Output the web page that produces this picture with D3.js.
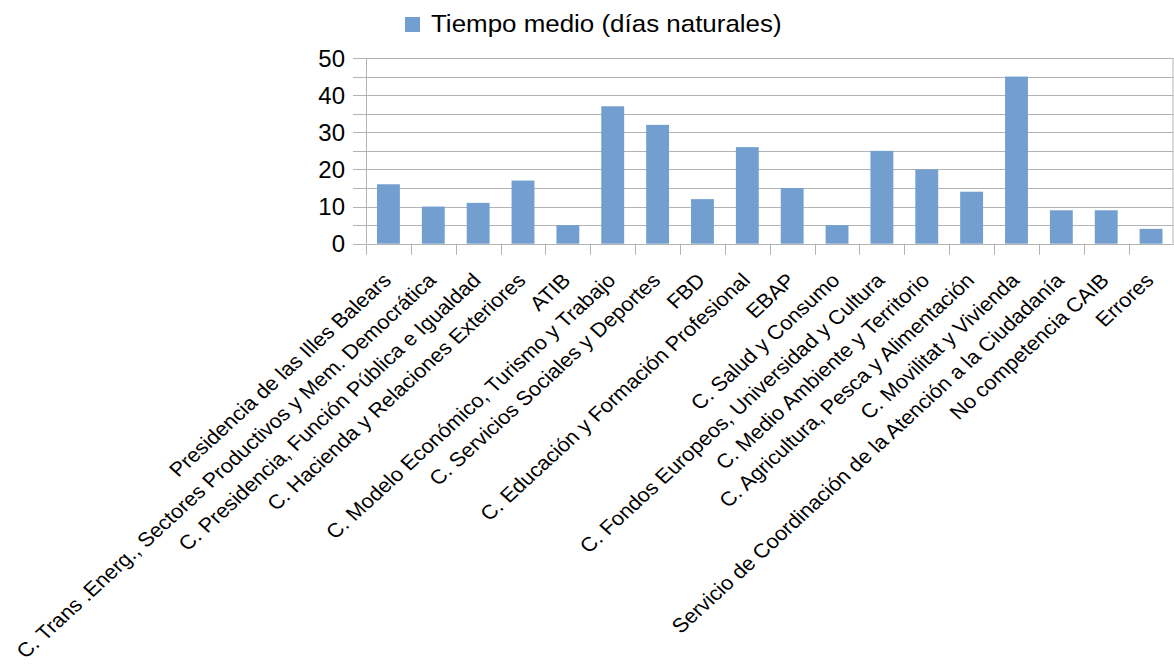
<!DOCTYPE html>
<html>
<head>
<meta charset="utf-8">
<script src="https://cdn.jsdelivr.net/npm/d3@7"></script>
<style>
  html, body { margin: 0; padding: 0; background: #fff; }
  svg { display: block; font-family: "Liberation Sans", Arial, sans-serif; }
</style>
</head>
<body>
<svg id="chart" width="1174" height="666"></svg>
<script>
// Categories (departments) and mean response time in calendar days
const categories = [
  "Presidencia de las Illes Balears",
  "C. Trans .Energ., Sectores Productivos y Mem. Democrática",
  "C. Presidencia, Función Pública e Igualdad",
  "C. Hacienda y Relaciones Exteriores",
  "ATIB",
  "C. Modelo Económico, Turismo y Trabajo",
  "C. Servicios Sociales y Deportes",
  "FBD",
  "C. Educación y Formación Profesional",
  "EBAP",
  "C. Salud y Consumo",
  "C. Fondos Europeos, Universidad y Cultura",
  "C. Medio Ambiente y Territorio",
  "C. Agricultura, Pesca y Alimentación",
  "C. Movilitat y Vivienda",
  "Servicio de Coordinación de la Atención a la Ciudadanía",
  "No competencia CAIB",
  "Errores"
];
const values = [16, 10, 11, 17, 5, 37, 32, 12, 26, 15, 5, 25, 20, 14, 45, 9, 9, 4];
const seriesName = "Tiempo medio (días naturales)";
const yTickLabels = [0, 10, 20, 30, 40, 50];
const yGridValues = [0, 5, 10, 15, 20, 25, 30, 35, 40, 45, 50];

const svg = d3.select("#chart");
const plot = { left: 366, right: 1173.5, top: 58, bottom: 243.7 };
const gridColor = "#b3b3b3";
const barColor = "#729fcf";
const textStretch = 1.09; // slightly widened lettering

const x = d3.scaleBand()
  .domain(categories)
  .range([plot.left, plot.right])
  .paddingInner(0.49)
  .paddingOuter(0.245);

const y = d3.scaleLinear()
  .domain([0, 50])
  .range([plot.bottom, plot.top]);

// Horizontal gridlines (every 5 days), extending left as tick marks
svg.append("g")
  .selectAll("line")
  .data(yGridValues)
  .join("line")
  .attr("x1", plot.left - 13)
  .attr("x2", plot.right)
  .attr("y1", d => Math.round(y(d)) + 0.5)
  .attr("y2", d => Math.round(y(d)) + 0.5)
  .attr("stroke", gridColor)
  .attr("stroke-width", 1);

// Left and right borders of the plot area
svg.append("line")
  .attr("x1", plot.left + 0.5).attr("x2", plot.left + 0.5)
  .attr("y1", plot.top).attr("y2", plot.bottom)
  .attr("stroke", gridColor);
svg.append("line")
  .attr("x1", plot.right - 0.5).attr("x2", plot.right - 0.5)
  .attr("y1", plot.top).attr("y2", plot.bottom)
  .attr("stroke", gridColor);

// Category separator ticks below the baseline
const boundaries = categories.map(c => x(c) - x.step() * x.paddingInner() / 2)
  .concat([plot.right]);
boundaries[0] = plot.left;
svg.append("g")
  .selectAll("line")
  .data(boundaries)
  .join("line")
  .attr("x1", d => Math.round(d) + 0.5)
  .attr("x2", d => Math.round(d) + 0.5)
  .attr("y1", plot.bottom)
  .attr("y2", plot.bottom + 11)
  .attr("stroke", gridColor);

// Bars
svg.append("g")
  .selectAll("rect")
  .data(values)
  .join("rect")
  .attr("x", (d, i) => x(categories[i]))
  .attr("width", x.bandwidth())
  .attr("y", d => y(d))
  .attr("height", d => y(0) - y(d))
  .attr("fill", barColor);

// Baseline redrawn over the bars
svg.append("line")
  .attr("x1", plot.left - 13).attr("x2", plot.right)
  .attr("y1", Math.round(y(0)) + 0.5).attr("y2", Math.round(y(0)) + 0.5)
  .attr("stroke", gridColor);

// Y tick labels
svg.append("g")
  .selectAll("text")
  .data(yTickLabels)
  .join("text")
  .attr("x", plot.left - 21)
  .attr("y", d => y(d))
  .attr("dy", "0.36em")
  .attr("text-anchor", "end")
  .attr("font-size", 24)
  .attr("fill", "#000")
  .text(d => d);

// Rotated category labels
svg.append("g")
  .selectAll("text")
  .data(categories)
  .join("text")
  .attr("transform", d => `translate(${x(d) + x.bandwidth() / 2 + 4},${plot.bottom + 38}) scale(${textStretch},1) rotate(-45)`)
  .attr("text-anchor", "end")
  .attr("font-size", 20)
  .attr("fill", "#000")
  .text(d => d);

// Legend
const legend = svg.append("g");
legend.append("rect")
  .attr("x", 405).attr("y", 17)
  .attr("width", 15).attr("height", 15)
  .attr("fill", barColor);
legend.append("text")
  .attr("transform", `translate(431,32) scale(${textStretch},1)`)
  .attr("font-size", 23.8)
  .attr("fill", "#000")
  .text(seriesName);
</script>
</body>
</html>
